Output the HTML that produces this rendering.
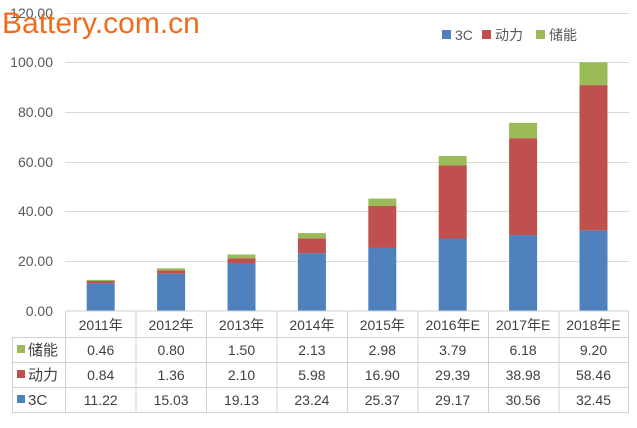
<!DOCTYPE html><html><head><meta charset="utf-8"><style>body{margin:0;background:#fff}svg text{font-family:"Liberation Sans","Noto Sans CJK SC",sans-serif}</style></head><body>
<svg width="637" height="423" xmlns="http://www.w3.org/2000/svg">
<g stroke="#d9d9d9" stroke-width="1">
<line x1="65" x2="629" y1="13.5" y2="13.5"/><line x1="65" x2="629" y1="62.5" y2="62.5"/><line x1="65" x2="629" y1="112.5" y2="112.5"/><line x1="65" x2="629" y1="162.5" y2="162.5"/><line x1="65" x2="629" y1="211.5" y2="211.5"/><line x1="65" x2="629" y1="261.5" y2="261.5"/>
</g>
<g font-size="14" fill="#595959" text-anchor="end">
<text x="53" y="18">120.00</text><text x="53" y="67">100.00</text><text x="53" y="117">80.00</text><text x="53" y="167">60.00</text><text x="53" y="216">40.00</text><text x="53" y="266">20.00</text><text x="53" y="316">0.00</text>
</g>
<g>
<rect x="86.7" y="283.12" width="28" height="27.88" fill="#4f81bd"/><rect x="86.7" y="281.03" width="28" height="2.09" fill="#c0504d"/><rect x="86.7" y="279.89" width="28" height="1.14" fill="#9bbb59"/>
<rect x="157.1" y="273.65" width="28" height="37.35" fill="#4f81bd"/><rect x="157.1" y="270.27" width="28" height="3.38" fill="#c0504d"/><rect x="157.1" y="268.28" width="28" height="1.99" fill="#9bbb59"/>
<rect x="227.5" y="263.46" width="28" height="47.54" fill="#4f81bd"/><rect x="227.5" y="258.24" width="28" height="5.22" fill="#c0504d"/><rect x="227.5" y="254.51" width="28" height="3.73" fill="#9bbb59"/>
<rect x="297.9" y="253.25" width="28" height="57.75" fill="#4f81bd"/><rect x="297.9" y="238.39" width="28" height="14.86" fill="#c0504d"/><rect x="297.9" y="233.10" width="28" height="5.29" fill="#9bbb59"/>
<rect x="368.3" y="247.96" width="28" height="63.04" fill="#4f81bd"/><rect x="368.3" y="205.96" width="28" height="42.00" fill="#c0504d"/><rect x="368.3" y="198.55" width="28" height="7.41" fill="#9bbb59"/>
<rect x="438.7" y="238.51" width="28" height="72.49" fill="#4f81bd"/><rect x="438.7" y="165.48" width="28" height="73.03" fill="#c0504d"/><rect x="438.7" y="156.06" width="28" height="9.42" fill="#9bbb59"/>
<rect x="509.1" y="235.06" width="28" height="75.94" fill="#4f81bd"/><rect x="509.1" y="138.19" width="28" height="96.87" fill="#c0504d"/><rect x="509.1" y="122.83" width="28" height="15.36" fill="#9bbb59"/>
<rect x="579.5" y="230.36" width="28" height="80.64" fill="#4f81bd"/><rect x="579.5" y="85.09" width="28" height="145.27" fill="#c0504d"/><rect x="579.5" y="62.23" width="28" height="22.86" fill="#9bbb59"/>
</g>
<g stroke="#d0d0d0" fill="none">
<rect x="12.5" y="337.5" width="616" height="75"/>
<line x1="65.5" y1="311" x2="629" y2="311"/>
<line x1="12" y1="362.5" x2="629" y2="362.5"/><line x1="12" y1="387.5" x2="629" y2="387.5"/>
<line x1="65.5" y1="311" x2="65.5" y2="413"/><line x1="628.5" y1="311" x2="628.5" y2="413"/>
<line x1="136" y1="311" x2="136" y2="413"/><line x1="206.5" y1="311" x2="206.5" y2="413"/><line x1="277" y1="311" x2="277" y2="413"/><line x1="347.5" y1="311" x2="347.5" y2="413"/><line x1="418" y1="311" x2="418" y2="413"/><line x1="488.5" y1="311" x2="488.5" y2="413"/><line x1="559" y1="311" x2="559" y2="413"/>
</g>
<rect x="17" y="345" width="8" height="8" fill="#9bbb59"/><rect x="17" y="370" width="8" height="8" fill="#c0504d"/><rect x="17" y="395" width="8" height="8" fill="#4f81bd"/>
<g font-size="15" fill="#404040"><text x="28" y="355">储能</text><text x="28" y="380">动力</text><text x="28" y="405">3C</text></g>
<g font-size="14" fill="#404040" text-anchor="middle">
<text x="100.7" y="330">2011年</text><text x="171.1" y="330">2012年</text><text x="241.5" y="330">2013年</text><text x="311.9" y="330">2014年</text><text x="382.3" y="330">2015年</text><text x="452.7" y="330">2016年E</text><text x="523.1" y="330">2017年E</text><text x="593.5" y="330">2018年E</text>
<text x="100.7" y="355">0.46</text><text x="171.1" y="355">0.80</text><text x="241.5" y="355">1.50</text><text x="311.9" y="355">2.13</text><text x="382.3" y="355">2.98</text><text x="452.7" y="355">3.79</text><text x="523.1" y="355">6.18</text><text x="593.5" y="355">9.20</text>
<text x="100.7" y="380">0.84</text><text x="171.1" y="380">1.36</text><text x="241.5" y="380">2.10</text><text x="311.9" y="380">5.98</text><text x="382.3" y="380">16.90</text><text x="452.7" y="380">29.39</text><text x="523.1" y="380">38.98</text><text x="593.5" y="380">58.46</text>
<text x="100.7" y="405">11.22</text><text x="171.1" y="405">15.03</text><text x="241.5" y="405">19.13</text><text x="311.9" y="405">23.24</text><text x="382.3" y="405">25.37</text><text x="452.7" y="405">29.17</text><text x="523.1" y="405">30.56</text><text x="593.5" y="405">32.45</text>
</g>
<rect x="442" y="30" width="9" height="9" fill="#4f81bd"/><text x="455" y="40" font-size="14" fill="#595959">3C</text>
<rect x="482" y="30" width="9" height="9" fill="#c0504d"/><text x="495" y="40" font-size="14" fill="#595959">动力</text>
<rect x="536" y="30" width="9" height="9" fill="#9bbb59"/><text x="549" y="40" font-size="14" fill="#595959">储能</text>
<text x="2" y="33" font-size="30" fill="#f26b1d">Battery.com.cn</text>
</svg></body></html>
